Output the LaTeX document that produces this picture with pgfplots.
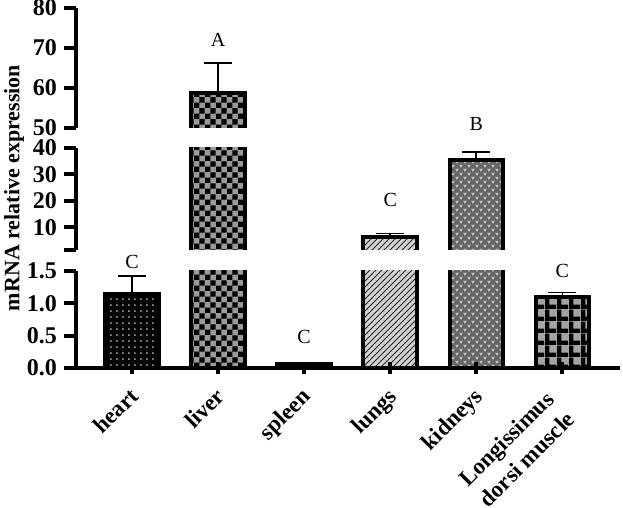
\documentclass[border=0pt]{standalone}
\usepackage{fontspec}
\setmainfont{Liberation Serif}
\usepackage{pgfplots}
\pgfplotsset{compat=1.18}
\usetikzlibrary{patterns}

\definecolor{checkgray}{HTML}{9A9A9A}
\definecolor{linegray}{HTML}{D2D2D2}
\definecolor{kidgray}{HTML}{666666}
\definecolor{gridgray}{HTML}{A4A4A4}

% fill patterns of the bars
\pgfdeclarepatternformonly{checker}{\pgfpointorigin}{\pgfqpoint{5.4pt}{5.4pt}}{\pgfqpoint{5.4pt}{5.4pt}}{%
  \pgfpathrectangle{\pgfpointorigin}{\pgfqpoint{2.7pt}{2.7pt}}%
  \pgfpathrectangle{\pgfqpoint{2.7pt}{2.7pt}}{\pgfqpoint{2.7pt}{2.7pt}}%
  \pgfusepath{fill}}
\pgfdeclarepatternformonly{thickgrid}{\pgfpointorigin}{\pgfqpoint{5.8pt}{5.8pt}}{\pgfqpoint{5.8pt}{5.8pt}}{%
  \pgfpathrectangle{\pgfpointorigin}{\pgfqpoint{5.8pt}{2.3pt}}%
  \pgfpathrectangle{\pgfpointorigin}{\pgfqpoint{2.3pt}{5.8pt}}%
  \pgfusepath{fill}}
\pgfdeclarepatternformonly{wdots}{\pgfpointorigin}{\pgfqpoint{3.2pt}{3.2pt}}{\pgfqpoint{3.2pt}{3.2pt}}{%
  \pgfpathcircle{\pgfqpoint{1.6pt}{1.6pt}}{0.45pt}%
  \pgfusepath{fill}}
\pgfdeclarepatternformonly{vees}{\pgfpointorigin}{\pgfqpoint{4pt}{4pt}}{\pgfqpoint{4pt}{4pt}}{%
  \pgfsetlinewidth{0.5pt}%
  \pgfpathmoveto{\pgfqpoint{0.4pt}{1.6pt}}\pgfpathlineto{\pgfqpoint{1pt}{0.6pt}}\pgfpathlineto{\pgfqpoint{1.6pt}{1.6pt}}%
  \pgfpathmoveto{\pgfqpoint{2.4pt}{3.6pt}}\pgfpathlineto{\pgfqpoint{3pt}{2.6pt}}\pgfpathlineto{\pgfqpoint{3.6pt}{3.6pt}}%
  \pgfusepath{stroke}}

\pgfplotsset{
  seg/.style={
    scale only axis, width=272pt,
    xmin=-0.65, xmax=5.67,
    axis y line=left,
    axis line style={-, line width=2pt},
    tick style={line width=2pt, black},
    tick align=outside, major tick length=6pt,
    tick label style={font=\fontsize{12}{14}\selectfont\bfseries},
    yticklabel style={inner ysep=0.5pt},
    /pgf/number format/assume math mode=true,
    axis on top,
  },
  bar/.style={draw=black, line width=2pt, mark=none},
  errs/.style={draw=none, mark=none,
    error bars/.cd, y dir=plus, y explicit,
    error bar style={draw=black, line width=0.8pt},
    error mark options={rotate=90, mark size=7pt, draw=black, line width=0.8pt}},
  letters/.style={only marks, mark options={draw=none, fill=none},
    point meta=explicit symbolic, nodes near coords,
    nodes near coords style={anchor=center, text=black, font=\fontsize{10}{12}\selectfont}},
}

% each bar: an open outline (no bottom edge) from below the axis up to its value
\newcommand{\heartbar}{\addplot[bar, fill=black, postaction={pattern=wdots, pattern color=white}]
    coordinates {(-0.31,-10) (-0.31,1.14) (0.31,1.14) (0.31,-10)};}
\newcommand{\liverbar}{\addplot[bar, fill=checkgray, postaction={pattern=checker, pattern color=black}]
    coordinates {(0.69,-10) (0.69,58.8) (1.31,58.8) (1.31,-10)};}
\newcommand{\spleenbar}{\addplot[bar, fill=black]
    coordinates {(1.69,-10) (1.69,0.06) (2.31,0.06) (2.31,-10)};}
\newcommand{\lungsbar}{\addplot[bar, fill=linegray, postaction={pattern=north east lines, pattern color=black!85}]
    coordinates {(2.69,-10) (2.69,6.4) (3.31,6.4) (3.31,-10)};}
\newcommand{\kidneysbar}{\addplot[bar, fill=kidgray, postaction={pattern=vees, pattern color=gray!45}]
    coordinates {(3.69,-10) (3.69,35.3) (4.31,35.3) (4.31,-10)};}
\newcommand{\musclebar}{\addplot[bar, fill=gridgray, postaction={pattern=thickgrid, pattern color=black}]
    coordinates {(4.69,-10) (4.69,1.10) (5.31,1.10) (5.31,-10)};}

\begin{document}
\begin{tikzpicture}
% lower segment 0 - 1.5
\begin{axis}[seg, at={(0pt,0pt)}, anchor=south west, height=48.5pt,
  ymin=0, ymax=1.5, ytick={0,0.5,1,1.5},
  yticklabel style={/pgf/number format/.cd, fixed, fixed zerofill, precision=1},
  axis x line=bottom, x axis line style={-},
  xtick={0,1,2,3,4},
  xticklabels={heart,liver,spleen,lungs,kidneys},
  xticklabel style={rotate=45, anchor=north east, inner sep=1pt,
    xshift=-4.5pt, yshift=-2pt, font=\fontsize{11.5}{13.5}\selectfont\bfseries},
  extra x ticks={5},
  extra x tick labels={Longissimus\\dorsi muscle},
  extra x tick style={xticklabel style={align=right, xshift=-6.2pt, yshift=4.2pt,
    font=\fontsize{11.5}{14.5}\selectfont\bfseries}},
]
\heartbar \liverbar \spleenbar \lungsbar \kidneysbar \musclebar
\addplot[errs] coordinates {(0,1.14) +- (0,0.28) (2,0.06) +- (0,0.015) (5,1.10) +- (0,0.07)};
\addplot[letters] coordinates {(2,0.48)[C] (5,1.5)[C]};
\addplot[letters, nodes near coords style={yshift=4.5pt}] coordinates {(0,1.5)[C]};
\end{axis}
% middle segment 1.5 - 40
\begin{axis}[seg, at={(0pt,59pt)}, anchor=south west, height=51pt,
  ymin=1.5, ymax=40, ytick={1.5,10,20,30,40}, yticklabels={,10,20,30,40},
  axis x line=none,
]
\liverbar \lungsbar \kidneysbar
\addplot[errs] coordinates {(3,6.4) +- (0,1.3) (4,35.3) +- (0,3.2)};
\addplot[letters] coordinates {(3,20.5)[C]};
\end{axis}
% upper segment 50 - 80
\begin{axis}[seg, at={(0pt,120pt)}, anchor=south west, height=60pt,
  ymin=50, ymax=80, ytick={50,60,70,80},
  axis x line=none,
]
\liverbar
\addplot[errs] coordinates {(1,58.8) +- (0,7.4)};
\addplot[letters] coordinates {(1,72)[A] (4,51)[B]};
\end{axis}
\node[rotate=90, font=\fontsize{11}{13}\selectfont\bfseries] at (-31pt,90pt) {mRNA relative expression};
\pgfresetboundingbox
\useasboundingbox (-38pt,-70pt) rectangle (273.5pt,184pt);
\end{tikzpicture}
\end{document}
